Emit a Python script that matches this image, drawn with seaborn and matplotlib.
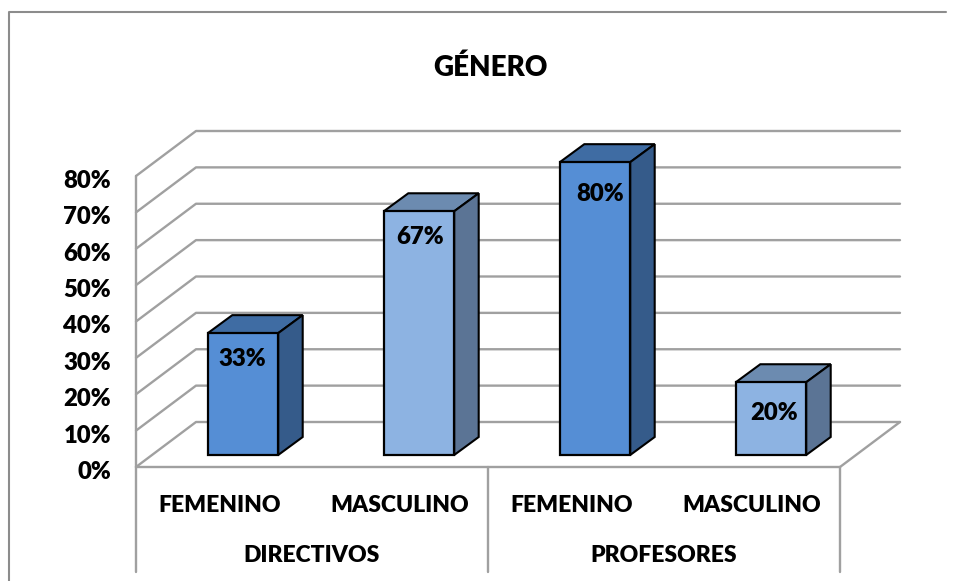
import matplotlib
matplotlib.use('Agg')
import matplotlib.pyplot as plt
import matplotlib.transforms as mtrans
from matplotlib.patches import Polygon
from matplotlib.lines import Line2D
import pandas as pd
import seaborn as sns

# datos
grupos = ['DIRECTIVOS', 'DIRECTIVOS', 'PROFESORES', 'PROFESORES']
genero = ['FEMENINO', 'MASCULINO', 'FEMENINO', 'MASCULINO']
valores = [0.335, 0.67, 0.805, 0.20]
etiquetas = ['33%', '67%', '80%', '20%']
y_ticks = [0, 0.1, 0.2, 0.3, 0.4, 0.5, 0.6, 0.7, 0.8]
titulo = 'GÉNERO'

df = pd.DataFrame({'grupo': grupos, 'genero': genero, 'valor': valores})
df['clave'] = df['grupo'] + '_' + df['genero']

# colores: frente, tapa, lado
oscuro = ('#558ed5', '#3f6ca3', '#355b8a')
claro = ('#8db3e2', '#6c8bb0', '#5b7495')
colores = [oscuro, claro, oscuro, claro]
gris = '#a0a0a0'
W, H = 959, 581
peso = 'heavy'

sns.set_theme(style='white')
plt.rcParams['font.family'] = ['Lato', 'DejaVu Sans']

fig = plt.figure(figsize=(W / 100, H / 100), dpi=100)
ax = fig.add_axes([136 / W, 1 - 467 / H, 704 / W, 291 / H])
sns.barplot(data=df, x='clave', y='valor', hue='clave', palette=[c[0] for c in colores],
            saturation=1, width=0.40, legend=False, edgecolor='black', linewidth=1.6,
            ax=ax, zorder=5)
ax.set_xlim(-0.5, 3.5)
ax.set_ylim(0, 0.8)
ax.patch.set_visible(False)
sns.despine(ax=ax, left=True, bottom=True)
ax.set_xlabel('')
ax.set_ylabel('')
ax.grid(False)

# marco exterior
fig.add_artist(Line2D([9 / W, 9 / W, 946 / W], [0, 1 - 12 / H, 1 - 12 / H], color='#8c8c8c', lw=1.5))

# pared del fondo en pixeles
prof_x, prof_y = 60, 45
def px(x, y):
    return ax.transData.transform((x, y))

def linea(xs, ys, **kw):
    ax.add_line(Line2D(xs, ys, transform=mtrans.IdentityTransform(), color=gris, lw=1.7,
                       clip_on=False, **kw))

for v in y_ticks:
    x0, y0 = px(-0.5, v)
    x1, _ = px(3.5, v)
    linea([x0, x0 + prof_x, x1 + prof_x], [y0, y0 + prof_y, y0 + prof_y], zorder=1)
x0, y0 = px(-0.5, 0)
x1, _ = px(3.5, 0)
y8 = px(-0.5, 0.8)[1]
linea([x0, x0], [y0, y8], zorder=1)
linea([x1, x1 + prof_x], [y0, y0 + prof_y], zorder=1)
linea([x0, x1], [y0, y0], zorder=1)

# separadores del eje de categorias
for c in [-0.5, 1.5, 3.5]:
    xc, yc = px(c, 0)
    linea([xc, xc], [yc, yc - 105], zorder=1)

# barras con efecto 3D
mov_x, mov_y = 19, 12
desp_x, desp_y = 24.5, 18
trans_barra = mtrans.offset_copy(ax.transData, fig=fig, x=mov_x, y=mov_y, units='dots')
ajuste_etq = [(-1, -26), (1, -26), (5, -32), (3, -31)]
for p, col, etq, aj in zip(ax.patches, colores, etiquetas, ajuste_etq):
    p.set_transform(trans_barra)
    p.set_clip_on(False)
    x, w, h = p.get_x(), p.get_width(), p.get_height()
    xa, ya = px(x, 0)
    xb, yb = px(x + w, h)
    xa, xb = xa + mov_x, xb + mov_x
    ya, yb = ya + mov_y, yb + mov_y
    tapa = [(xa, yb), (xb, yb), (xb + desp_x, yb + desp_y), (xa + desp_x, yb + desp_y)]
    lado = [(xb, ya), (xb + desp_x, ya + desp_y), (xb + desp_x, yb + desp_y), (xb, yb)]
    for cara, color in zip([tapa, lado], col[1:]):
        ax.add_patch(Polygon(cara, closed=True, facecolor=color, edgecolor='black', lw=1.5,
                             transform=mtrans.IdentityTransform(), clip_on=False, zorder=4))
    ax.annotate(etq, xy=((xa + xb) / 2, yb), xycoords=mtrans.IdentityTransform(),
                xytext=aj, textcoords='offset pixels', ha='center', va='center',
                fontsize=17.2, fontweight=peso, color='black', zorder=6)

# ejes y textos
ax.set_yticks(y_ticks)
ax.set_yticklabels([f'{round(v * 100)}%' for v in y_ticks], fontsize=17.2, fontweight=peso, color='black')
ax.set_xticks(range(len(genero)))
ax.set_xticklabels(genero, fontsize=16.5, fontweight=peso, color='black')
ax.tick_params(axis='y', length=0, pad=18)
ax.tick_params(axis='x', length=0, pad=20)

baja = mtrans.ScaledTranslation(0, -3 / 100, fig.dpi_scale_trans)
for t in ax.get_yticklabels():
    t.set_transform(t.get_transform() + baja)
izq = mtrans.ScaledTranslation(-4 / 100, 0, fig.dpi_scale_trans)
for t, g in zip(ax.get_xticklabels(), genero):
    if g == 'FEMENINO':
        t.set_transform(t.get_transform() + izq)

for c, g in zip([0.5, 2.5], [grupos[0], grupos[2]]):
    xc, yc = px(c, 0)
    ax.text(xc, yc - 89, g, transform=mtrans.IdentityTransform(), ha='center', va='center',
            fontsize=16.5, fontweight=peso, color='black')

fig.text(490 / W, 1 - 68 / H, titulo, ha='center', va='center', fontsize=20, fontweight=peso, color='black')

fig.savefig('out.png', dpi=100)
